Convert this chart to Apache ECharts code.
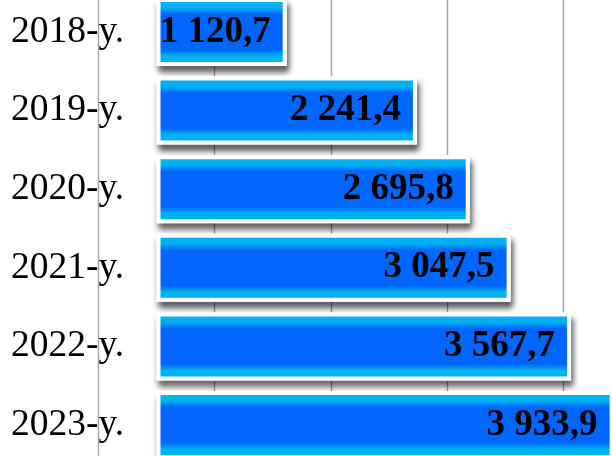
<!DOCTYPE html>
<html>
<head>
<meta charset="utf-8">
<script src="https://cdn.jsdelivr.net/npm/echarts@6/dist/echarts.min.js"></script>
<style>
html,body{margin:0;padding:0;background:#fff;overflow:hidden;width:612px;height:456px;position:relative;}
#chart{width:630px;height:475px;position:absolute;left:0;top:-8px;}
</style>
</head>
<body>
<div id="chart"></div>
<script>
const categories = ['2018-y.', '2019-y.', '2020-y.', '2021-y.', '2022-y.', '2023-y.'];
const values = [1120.7, 2241.4, 2695.8, 3047.5, 3567.7, 3933.9];

function fmt(v) {
  const parts = v.toFixed(1).split('.');
  const intPart = parts[0].replace(/\B(?=(\d{3})+(?!\d))/g, ' ');
  return intPart + ',' + parts[1];
}

const chart = echarts.init(document.getElementById('chart'), null, {renderer: 'canvas'});
const blue = new echarts.graphic.LinearGradient(0, 0, 0, 1, [
  {offset: 0, color: '#1a78f0'},
  {offset: 0.06, color: '#00b4f0'},
  {offset: 0.15, color: '#00aef0'},
  {offset: 0.24, color: '#0066ff'},
  {offset: 0.76, color: '#0066ff'},
  {offset: 0.85, color: '#00aef0'},
  {offset: 0.94, color: '#00b4f0'},
  {offset: 1, color: '#1a78f0'}
]);

chart.setOption({
  animation: false,
  backgroundColor: '#ffffff',
  grid: {left: 98.4, right: 8.7, top: 0.7, bottom: 2.7, containLabel: false},
  xAxis: [
    {type: 'value', min: -500, max: 4000, show: false},
    {type: 'value', min: 0, max: 4500, interval: 1000, position: 'top',
     axisLine: {show: false}, axisTick: {show: false}, axisLabel: {show: false},
     splitLine: {show: true, lineStyle: {color: '#a3a3a3', width: 1.4}}}
  ],
  yAxis: {
    type: 'category', data: categories, inverse: true,
    axisLine: {show: false}, axisTick: {show: false},
    axisLabel: {align: 'left', margin: 87.5, fontSize: 37.5, color: '#000',
      fontFamily: 'Liberation Serif'}
  },
  series: [{
    type: 'bar', xAxisIndex: 0, data: values, barWidth: 68, silent: true,
    itemStyle: {color: '#ffffff', borderColor: '#ffffff', borderWidth: 4,
      shadowColor: 'rgba(0,0,0,0.6)', shadowBlur: 6, shadowOffsetX: 2, shadowOffsetY: 6}
  }, {
    type: 'bar', xAxisIndex: 0, data: values, barWidth: 68, barGap: '-100%',
    itemStyle: {color: blue, borderColor: '#ffffff', borderWidth: 4},
    label: {show: true, position: 'insideRight', distance: 16,
      fontSize: 37, fontWeight: 'bold', fontFamily: 'Liberation Serif', color: '#000',
      formatter: p => fmt(p.value)}
  }]
});
</script>
</body>
</html>
